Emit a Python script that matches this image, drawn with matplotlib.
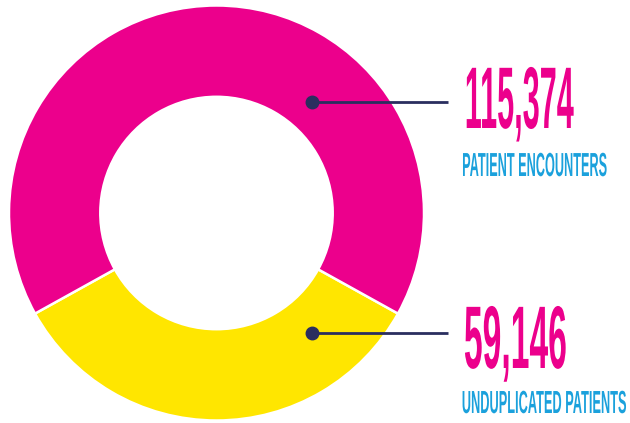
import matplotlib
matplotlib.use("Agg")
import matplotlib.pyplot as plt
from matplotlib.patheffects import AbstractPathEffect
from matplotlib.transforms import Affine2D

# data
labels = ["PATIENT ENCOUNTERS", "UNDUPLICATED PATIENTS"]
values = [115374, 59146]
value_text = ["115,374", "59,146"]

pink = "#EC008C"
yellow = "#FFE600"
blue = "#1BA1DC"
navy = "#2A2E5F"


class Squeeze(AbstractPathEffect):
    # squeeze glyphs horizontally (condensed look), anchored at the right end of the text
    def __init__(self, sx):
        super().__init__()
        self.sx = sx

    def draw_path(self, renderer, gc, tpath, affine, rgbFace=None):
        x1 = tpath.get_extents().x1
        tr = Affine2D().translate(-x1, 0).scale(self.sx, 1).translate(x1, 0)
        renderer.draw_path(gc, tpath, tr + affine, rgbFace)


fig = plt.figure(figsize=(6.3, 4.23), dpi=100, facecolor="w")
ax = fig.add_axes([0, 0, 1, 1])

cx, cy, R = 216.5, 210, 207.5
total = sum(values)
yfrac = values[1] / total
# yellow wedge centred at the bottom
ax.pie([values[1], values[0]], colors=[yellow, pink], startangle=270 - yfrac * 180,
       center=(cx, cy), radius=R,
       wedgeprops=dict(width=R * 0.44, edgecolor="w", linewidth=1.8))

ax.set_xlim(0, 630)
ax.set_ylim(0, 423)
ax.set_aspect("equal")
ax.axis("off")

# leader lines
for y in [321, 90]:
    ax.plot([311.7, 448], [y, y], color=navy, lw=2, solid_capstyle="butt", zorder=5)
    ax.plot([311.7], [y], "o", color=navy, ms=9, zorder=6)

texts = []
# (text, right x, baseline y, colour, size, target width px, weight)
items = [
    (value_text[0], 574, 295, pink, 63, 109, "bold"),
    (labels[0], 608, 247, blue, 24, 145, "bold"),
    (value_text[1], 569, 55, pink, 64, 103, "bold"),
    (labels[1], 628, 10, blue, 23, 165, "bold"),
]
for s, x, y, c, fs, w, fw in items:
    t = ax.text(x, y, s, color=c, fontsize=fs, fontweight=fw, family="Liberation Sans",
                ha="right", va="baseline")
    texts.append((t, w))

fig.canvas.draw()
r = fig.canvas.get_renderer()
for t, w in texts:
    bb = t.get_window_extent(r)
    t.set_path_effects([Squeeze(w / bb.width)])

plt.savefig("out.png", dpi=100)
